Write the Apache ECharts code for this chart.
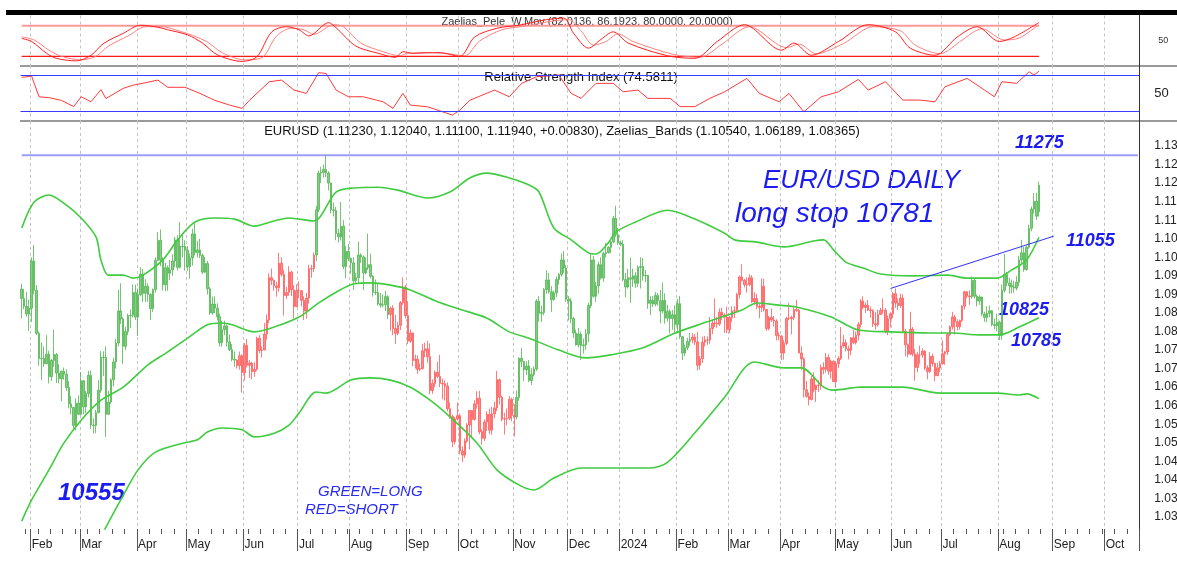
<!DOCTYPE html>
<html>
<head>
<meta charset="utf-8">
<script src="https://cdn.jsdelivr.net/npm/echarts@6/dist/echarts.min.js"></script>
<style>
  html, body { margin: 0; padding: 0; background: #fff; }
  #chart { width: 1177px; height: 567px; }
</style>
</head>
<body>
<div id="chart"></div>
<script>
// daily EUR/USD candles: date, open, high, low, close (pips over 1.0000)
const candles = [
  ['2023-01-26',914,929,836,889],['2023-01-27',889,915,860,868],['2023-01-30',868,906,840,847],['2023-01-31',847,886,802,863],
  ['2023-02-01',863,1000,826,990],['2023-02-02',990,1033,900,911],['2023-02-03',911,925,791,795],['2023-02-06',795,800,708,727],
  ['2023-02-07',727,770,669,728],['2023-02-08',728,760,705,713],['2023-02-09',713,790,712,739],['2023-02-10',739,748,660,678],
  ['2023-02-13',678,726,667,722],['2023-02-14',722,805,705,738],['2023-02-15',738,742,661,688],['2023-02-16',688,712,660,673],
  ['2023-02-17',673,694,612,693],['2023-02-20',693,703,670,685],['2023-02-21',685,698,640,649],['2023-02-22',649,666,593,605],
  ['2023-02-23',605,627,577,595],['2023-02-24',595,597,536,547],['2023-02-27',547,620,533,607],['2023-02-28',607,628,575,577],
  ['2023-03-01',577,691,575,667],['2023-03-02',667,669,577,597],['2023-03-03',597,640,580,633],['2023-03-06',633,694,622,682],
  ['2023-03-07',682,695,537,548],['2023-03-08',548,566,525,547],['2023-03-09',547,589,526,581],['2023-03-10',581,669,580,642],
  ['2023-03-13',642,747,635,731],['2023-03-14',731,747,680,730],['2023-03-15',730,760,516,577],['2023-03-16',577,640,576,610],
  ['2023-03-17',610,674,605,670],['2023-03-20',670,729,652,718],['2023-03-21',718,780,700,769],['2023-03-22',769,912,760,855],
  ['2023-03-23',855,930,820,834],['2023-03-24',834,839,713,760],['2023-03-27',760,813,750,800],['2023-03-28',800,848,790,843],
  ['2023-03-29',843,860,810,844],['2023-03-30',844,927,838,905],['2023-03-31',905,926,831,839],
  ['2023-04-03',839,916,788,900],['2023-04-04',900,973,895,955],['2023-04-05',955,969,880,903],['2023-04-06',903,941,880,922],
  ['2023-04-07',922,930,880,900],['2023-04-10',900,903,831,862],['2023-04-11',862,916,853,913],['2023-04-12',913,1000,905,992],
  ['2023-04-13',992,1068,990,1046],['2023-04-14',1046,1075,976,992],['2023-04-17',992,1000,910,926],['2023-04-18',926,985,909,972],
  ['2023-04-19',972,978,910,957],['2023-04-20',957,993,938,966],['2023-04-21',966,1008,950,990],['2023-04-24',990,1055,973,1047],
  ['2023-04-25',1047,1060,965,973],['2023-04-26',973,1095,970,1030],['2023-04-27',1030,1062,1000,1029],['2023-04-28',1029,1046,964,1019],
  ['2023-05-01',1019,1030,964,975],['2023-05-02',975,1010,942,998],['2023-05-03',998,1077,978,1063],['2023-05-04',1063,1092,1005,1013],
  ['2023-05-05',1013,1045,1000,1020],['2023-05-08',1020,1050,998,1005],['2023-05-09',1005,1010,955,960],['2023-05-10',960,1001,958,983],
  ['2023-05-11',983,990,900,915],['2023-05-12',915,920,845,850],['2023-05-15',850,894,845,874],['2023-05-16',874,895,850,863],
  ['2023-05-17',863,876,830,840],['2023-05-18',840,848,760,770],['2023-05-19',770,829,759,805],['2023-05-22',805,829,790,815],
  ['2023-05-23',815,818,760,772],['2023-05-24',772,792,747,751],['2023-05-25',751,766,720,725],['2023-05-26',725,746,705,723],
  ['2023-05-29',723,725,700,708],['2023-05-30',708,746,697,735],['2023-05-31',735,738,635,689],
  ['2023-06-01',689,769,668,762],['2023-06-02',762,780,703,709],['2023-06-05',709,723,675,715],['2023-06-06',715,718,671,692],
  ['2023-06-07',692,717,678,698],['2023-06-08',698,786,694,782],['2023-06-09',782,790,742,749],['2023-06-12',749,760,730,750],
  ['2023-06-13',750,823,750,793],['2023-06-14',793,846,778,831],['2023-06-15',831,957,822,945],['2023-06-16',945,970,925,938],
  ['2023-06-19',938,940,910,923],['2023-06-20',923,934,894,918],['2023-06-21',918,1012,907,984],['2023-06-22',984,1000,948,954],
  ['2023-06-23',954,966,843,897],['2023-06-26',897,920,887,905],['2023-06-27',905,976,896,960],['2023-06-28',960,964,895,912],
  ['2023-06-29',912,925,835,867],['2023-06-30',867,927,866,910],
  ['2023-07-03',910,935,890,910],['2023-07-04',910,912,868,884],['2023-07-05',884,895,831,855],['2023-07-06',855,904,835,890],
  ['2023-07-07',890,980,875,969],['2023-07-10',969,980,945,970],['2023-07-11',970,1013,960,1006],['2023-07-12',1006,1139,990,1128],
  ['2023-07-13',1128,1234,1122,1227],['2023-07-14',1227,1244,1200,1229],['2023-07-17',1229,1250,1215,1237],['2023-07-18',1237,1276,1216,1227],
  ['2023-07-19',1227,1232,1180,1200],['2023-07-20',1200,1201,1118,1128],['2023-07-21',1128,1148,1110,1126],['2023-07-24',1126,1136,1046,1064],
  ['2023-07-25',1064,1077,1039,1055],['2023-07-26',1055,1149,1045,1084],['2023-07-27',1084,1100,968,975],['2023-07-28',975,1030,944,1016],
  ['2023-07-31',1016,1036,990,997],
  ['2023-08-01',997,999,956,985],['2023-08-02',985,1000,912,937],['2023-08-03',937,958,930,945],['2023-08-04',945,1042,931,1006],
  ['2023-08-07',1006,1011,985,1001],['2023-08-08',1001,1005,912,958],['2023-08-09',958,1000,954,972],['2023-08-10',972,1064,966,980],
  ['2023-08-11',980,1010,943,949],['2023-08-14',949,952,894,906],['2023-08-15',906,940,898,905],['2023-08-16',905,930,870,875],
  ['2023-08-17',875,904,864,871],['2023-08-18',871,900,865,872],['2023-08-21',872,910,855,894],['2023-08-22',894,898,833,846],
  ['2023-08-23',846,867,802,863],['2023-08-24',863,871,790,808],['2023-08-25',808,845,766,795],['2023-08-28',795,826,790,817],
  ['2023-08-29',817,882,804,878],['2023-08-30',878,946,872,920],['2023-08-31',920,925,835,843],
  ['2023-09-01',843,882,766,774],['2023-09-04',774,806,770,796],['2023-09-05',796,797,706,722],['2023-09-06',722,738,700,725],
  ['2023-09-07',725,736,686,698],['2023-09-08',698,714,693,700],['2023-09-11',700,767,698,748],['2023-09-12',748,770,730,753],
  ['2023-09-13',753,775,716,732],['2023-09-14',732,768,631,641],['2023-09-15',641,671,632,660],['2023-09-18',660,695,650,690],
  ['2023-09-19',690,718,674,679],['2023-09-20',679,737,650,660],['2023-09-21',660,673,617,659],['2023-09-22',659,669,614,653],
  ['2023-09-25',653,663,585,592],['2023-09-26',592,609,565,571],['2023-09-27',571,576,488,503],['2023-09-28',503,570,496,564],
  ['2023-09-29',564,609,560,573],
  ['2023-10-02',573,579,469,478],['2023-10-03',478,490,448,467],['2023-10-04',467,512,459,505],['2023-10-05',505,553,500,548],
  ['2023-10-06',548,588,482,587],['2023-10-09',587,588,517,563],['2023-10-10',563,615,560,605],['2023-10-11',605,639,592,620],
  ['2023-10-12',620,640,523,530],['2023-10-13',530,537,495,512],['2023-10-16',512,563,505,556],['2023-10-17',556,585,532,577],
  ['2023-10-18',577,592,524,534],['2023-10-19',534,597,522,578],['2023-10-20',578,610,566,594],['2023-10-23',594,694,585,670],
  ['2023-10-24',670,673,603,623],['2023-10-25',623,626,558,564],['2023-10-26',564,581,522,565],['2023-10-27',565,592,547,566],
  ['2023-10-30',566,626,561,617],['2023-10-31',617,622,558,574],
  ['2023-11-01',574,604,517,570],['2023-11-02',570,641,563,622],['2023-11-03',622,730,613,728],['2023-11-06',728,756,704,719],
  ['2023-11-07',719,720,667,697],['2023-11-08',697,720,683,707],['2023-11-09',707,723,664,668],['2023-11-10',668,701,656,684],
  ['2023-11-13',684,706,679,699],['2023-11-14',699,887,694,882],['2023-11-15',882,895,827,849],['2023-11-16',849,870,826,851],
  ['2023-11-17',851,917,844,913],['2023-11-20',913,965,902,939],['2023-11-21',939,958,902,907],['2023-11-22',907,922,853,886],
  ['2023-11-23',886,910,883,904],['2023-11-24',904,948,893,940],['2023-11-27',940,958,926,954],['2023-11-28',954,1010,948,993],
  ['2023-11-29',993,1017,958,971],['2023-11-30',971,979,880,887],
  ['2023-12-01',887,896,830,882],['2023-12-04',882,890,822,835],['2023-12-05',835,839,782,796],['2023-12-06',796,805,762,764],
  ['2023-12-07',764,810,757,793],['2023-12-08',793,800,723,762],['2023-12-11',762,781,741,764],['2023-12-12',764,807,751,794],
  ['2023-12-13',794,878,772,870],['2023-12-14',870,1009,863,993],['2023-12-15',993,1004,891,895],['2023-12-18',895,933,880,923],
  ['2023-12-19',923,988,902,980],['2023-12-20',980,1000,940,944],['2023-12-21',944,1015,934,1010],['2023-12-22',1010,1039,1000,1013],
  ['2023-12-25',1013,1030,1010,1027],['2023-12-26',1027,1045,1011,1042],['2023-12-27',1042,1112,1038,1105],['2023-12-28',1105,1139,1055,1061],
  ['2023-12-29',1061,1079,1033,1039],
  ['2024-01-01',1039,1045,1030,1035],['2024-01-02',1035,1046,935,940],['2024-01-03',940,958,892,920],['2024-01-04',920,969,916,945],
  ['2024-01-05',945,999,877,941],['2024-01-08',941,969,920,950],['2024-01-09',950,960,917,930],['2024-01-10',930,978,920,973],
  ['2024-01-11',973,1000,916,975],['2024-01-12',975,998,937,950],['2024-01-15',950,966,933,951],['2024-01-16',951,953,861,876],
  ['2024-01-17',876,895,844,884],['2024-01-18',884,896,866,874],['2024-01-19',874,906,868,897],['2024-01-22',897,904,870,883],
  ['2024-01-23',883,912,822,855],['2024-01-24',855,932,849,884],['2024-01-25',884,903,821,836],['2024-01-26',836,872,827,854],
  ['2024-01-29',854,860,795,835],['2024-01-30',835,858,805,845],['2024-01-31',845,870,796,819],
  ['2024-02-01',819,888,795,875],['2024-02-02',875,896,780,786],['2024-02-05',786,788,723,742],['2024-02-06',742,765,734,756],
  ['2024-02-07',756,783,750,773],['2024-02-08',773,796,761,778],['2024-02-09',778,795,768,785],['2024-02-12',785,793,763,772],
  ['2024-02-13',772,799,695,709],['2024-02-14',709,734,697,727],['2024-02-15',727,786,715,771],['2024-02-16',771,788,760,777],
  ['2024-02-19',777,787,764,777],['2024-02-20',777,839,767,808],['2024-02-21',808,830,793,822],['2024-02-22',822,889,812,822],
  ['2024-02-23',822,839,810,820],['2024-02-26',820,862,815,852],['2024-02-27',852,864,831,844],['2024-02-28',844,849,796,839],
  ['2024-02-29',839,867,796,805],
  ['2024-03-01',805,842,795,838],['2024-03-04',838,868,826,855],['2024-03-05',855,868,837,856],['2024-03-06',856,904,853,900],
  ['2024-03-07',900,951,889,947],['2024-03-08',947,981,935,938],['2024-03-11',938,942,919,926],['2024-03-12',926,946,905,927],
  ['2024-03-13',927,954,922,945],['2024-03-14',945,952,877,880],['2024-03-15',880,906,872,889],['2024-03-18',889,901,860,868],
  ['2024-03-19',868,874,836,865],['2024-03-20',865,943,852,922],['2024-03-21',922,942,854,859],['2024-03-22',859,860,802,808],
  ['2024-03-25',808,842,803,838],['2024-03-26',838,862,826,831],['2024-03-27',831,842,814,828],['2024-03-28',828,833,776,789],
  ['2024-03-29',789,798,776,788],
  ['2024-04-01',788,790,723,742],['2024-04-02',742,777,724,768],['2024-04-03',768,840,763,835],['2024-04-04',835,877,830,835],
  ['2024-04-05',835,843,792,838],['2024-04-08',838,865,830,859],['2024-04-09',859,885,852,857],['2024-04-10',857,861,742,742],
  ['2024-04-11',742,760,697,726],['2024-04-12',726,730,622,643],['2024-04-15',643,667,622,625],['2024-04-16',625,636,601,617],
  ['2024-04-17',617,680,614,672],['2024-04-18',672,690,636,643],['2024-04-19',643,657,610,655],['2024-04-22',655,669,637,655],
  ['2024-04-23',655,711,643,703],['2024-04-24',703,717,685,698],['2024-04-25',698,742,689,730],['2024-04-26',730,739,683,693],
  ['2024-04-29',693,724,673,720],['2024-04-30',720,722,664,665],
  ['2024-05-01',665,719,650,713],['2024-05-02',713,734,701,727],['2024-05-03',727,812,723,761],['2024-05-06',761,791,756,770],
  ['2024-05-07',770,779,746,753],['2024-05-08',753,762,725,749],['2024-05-09',749,785,736,783],['2024-05-10',783,804,766,770],
  ['2024-05-13',770,800,765,790],['2024-05-14',790,826,776,819],['2024-05-15',819,887,811,882],['2024-05-16',882,895,860,865],
  ['2024-05-17',865,878,850,871],['2024-05-20',871,885,855,858],['2024-05-21',858,867,837,856],['2024-05-22',856,860,812,821],
  ['2024-05-23',821,852,805,818],['2024-05-24',818,859,813,846],['2024-05-27',846,864,845,857],['2024-05-28',857,889,848,857],
  ['2024-05-29',857,863,795,800],['2024-05-30',800,843,790,834],['2024-05-31',834,852,811,848],
  ['2024-06-03',848,906,836,902],['2024-06-04',902,916,864,877],['2024-06-05',877,889,858,870],['2024-06-06',870,902,864,890],
  ['2024-06-07',890,900,796,800],['2024-06-10',800,807,733,764],['2024-06-11',764,768,730,739],['2024-06-12',739,853,737,806],
  ['2024-06-13',806,812,733,740],['2024-06-14',740,753,667,703],['2024-06-17',703,745,690,737],['2024-06-18',737,762,713,737],
  ['2024-06-19',737,755,729,747],['2024-06-20',747,750,696,702],['2024-06-21',702,709,671,692],['2024-06-24',692,745,688,733],
  ['2024-06-25',733,740,706,714],['2024-06-26',714,716,666,681],['2024-06-27',681,716,680,702],['2024-06-28',702,721,691,713],
  ['2024-07-01',713,776,711,740],['2024-07-02',740,748,710,745],['2024-07-03',745,797,737,792],['2024-07-04',792,816,787,812],
  ['2024-07-05',812,853,805,839],['2024-07-08',839,845,792,826],['2024-07-09',826,833,803,813],['2024-07-10',813,832,805,830],
  ['2024-07-11',830,871,825,868],['2024-07-12',868,910,859,907],['2024-07-15',907,909,889,896],['2024-07-16',896,911,872,894],
  ['2024-07-17',894,948,888,938],['2024-07-18',938,943,890,895],['2024-07-19',895,900,868,882],['2024-07-22',882,898,872,893],
  ['2024-07-23',893,894,842,847],['2024-07-24',847,853,826,838],['2024-07-25',838,868,825,849],['2024-07-26',849,870,838,856],
  ['2024-07-29',856,858,814,819],['2024-07-30',819,835,806,816],['2024-07-31',816,848,801,825],
  ['2024-08-01',825,829,777,789],['2024-08-02',789,927,778,911],['2024-08-05',911,1009,905,954],['2024-08-06',954,961,922,931],
  ['2024-08-07',931,945,902,924],['2024-08-08',924,940,903,920],['2024-08-09',920,937,904,917],['2024-08-12',917,949,911,933],
  ['2024-08-13',933,1004,922,993],['2024-08-14',993,1047,981,1012],['2024-08-15',1012,1028,961,967],['2024-08-16',967,1032,964,1027],
  ['2024-08-19',1027,1088,1023,1078],['2024-08-20',1078,1137,1070,1130],['2024-08-21',1130,1173,1118,1151],['2024-08-22',1151,1174,1101,1111],
  ['2024-08-23',1123,1204,1110,1194]
];

// long / short regime from each date onward
const regimeStarts = [
  ['2023-01-26', 'long'], ['2023-05-29', 'short'], ['2023-07-12', 'long'], ['2023-08-23', 'short'],
  ['2023-11-02', 'long'], ['2024-02-09', 'short'], ['2024-07-17', 'long']
];

// Zaelias bands, [day index, price]
const upperBand = [[0,1.1079],[5,1.1149],[11,1.1168],[17,1.1146],[24,1.1106],[30,1.1055],[32,1.0993],[35,1.0952],[41,1.0952],[45,1.0944],[49,1.0952],[57,1.0993],[63,1.1047],[70,1.1095],[78,1.1106],[86,1.1103],[94,1.1084],[102,1.1098],[108,1.1106],[118,1.1098],[127,1.1176],[134,1.1187],[144,1.1189],[152,1.1181],[164,1.1160],[173,1.1176],[181,1.1214],[188,1.1227],[197,1.1214],[205,1.1195],[209,1.1176],[215,1.1079],[222,1.1047],[229,1.1012],[232,1.1009],[237,1.1039],[240,1.1068],[248,1.1095],[261,1.1127],[271,1.1106],[284,1.1065],[288,1.1047],[297,1.1041],[308,1.1028],[320,1.1044],[324,1.1047],[328,1.1020],[333,1.0987],[340,1.0971],[347,1.0955],[360,1.0950],[374,1.0952],[382,1.0944],[394,1.0944],[400,1.0966],[406,1.0993],[411,1.1054]];
const middleBand = [[0,1.0289],[4,1.0346],[11,1.0427],[17,1.0499],[24,1.0561],[32,1.0615],[41,1.0650],[51,1.0710],[59,1.0745],[67,1.0782],[75,1.0818],[81,1.0823],[85,1.0818],[94,1.0799],[102,1.0812],[112,1.0839],[120,1.0877],[127,1.0906],[134,1.0928],[141,1.0931],[149,1.0925],[157,1.0912],[168,1.0880],[178,1.0858],[188,1.0836],[197,1.0799],[205,1.0782],[217,1.0750],[228,1.0729],[238,1.0737],[251,1.0756],[264,1.0796],[277,1.0826],[291,1.0858],[297,1.0877],[306,1.0871],[313,1.0866],[327,1.0839],[338,1.0804],[351,1.0799],[367,1.0796],[376,1.0796],[387,1.0791],[395,1.0791],[403,1.0812],[411,1.0837]];
const lowerBand = [[33,1.0260],[40,1.0346],[47,1.0427],[54,1.0475],[65,1.0499],[71,1.0508],[75,1.0529],[81,1.0540],[89,1.0535],[94,1.0516],[102,1.0526],[108,1.0548],[112,1.0580],[119,1.0637],[123,1.0634],[133,1.0669],[141,1.0675],[149,1.0669],[157,1.0650],[165,1.0615],[173,1.0570],[184,1.0499],[192,1.0427],[201,1.0386],[207,1.0373],[215,1.0405],[226,1.0432],[238,1.0432],[254,1.0432],[261,1.0448],[273,1.0535],[284,1.0623],[296,1.0718],[308,1.0702],[315,1.0702],[324,1.0650],[328,1.0642],[339,1.0650],[356,1.0650],[371,1.0634],[394,1.0634],[403,1.0629],[406,1.0632],[411,1.0619]];

// Zaelias_Pele_W.Mov pair, [day index, value]
const peleFast = [[0,55],[4,49],[10,26],[14,16],[22,11],[28,22],[33,45],[41,65],[48,81],[55,77],[59,72],[67,62],[73,46],[79,23],[89,10],[95,19],[101,68],[107,78],[112,72],[116,60],[124,86],[127,76],[135,40],[144,26],[151,18],[154,29],[158,26],[163,27],[169,27],[177,20],[183,58],[192,75],[201,81],[211,91],[219,95],[223,65],[229,36],[234,53],[239,68],[245,46],[261,21],[272,16],[281,49],[292,82],[307,32],[312,46],[319,22],[330,49],[342,82],[353,68],[359,36],[369,22],[378,58],[386,78],[395,49],[401,58],[411,86.19]];
const peleSlow = [[0,58],[5,52],[11,32],[16,20],[24,13],[30,20],[35,40],[43,60],[50,78],[57,78],[62,72],[69,61],[75,48],[81,27],[90,13],[97,17],[103,60],[109,75],[114,72],[118,63],[126,82],[130,78],[137,46],[146,29],[153,21],[156,26],[160,26],[165,27],[171,26],[179,21],[185,50],[194,72],[203,79],[213,88],[221,92],[226,70],[231,42],[236,49],[241,64],[247,49],[263,24],[274,18],[283,44],[294,78],[309,37],[314,44],[321,25],[332,45],[344,78],[355,70],[361,42],[371,25],[380,52],[388,74],[397,52],[403,56],[411,82.01]];
const peleLevels = [80, 20];

// RSI, [day index, value]
const rsi = [[0,67.8],[4,69],[7,46],[11,45],[16,42],[21,35],[24,46],[28,40.5],[32,54],[34,44],[41,55.4],[45,59],[50,61.7],[55,64.7],[59,56.6],[66,56.6],[72,49.8],[78,42],[84,36.7],[89,33],[92,42],[100,62.8],[105,64.7],[110,53.5],[115,49.8],[120,73],[123,72],[127,53.5],[132,46],[138,46],[146,40.4],[150,33],[154,49.8],[157,36.7],[164,34.8],[174,25.5],[177,31],[181,42],[191,53.5],[197,46],[202,61],[208,68.4],[217,70.3],[222,49.8],[226,44.2],[232,61],[239,61],[243,51.6],[249,53.5],[253,44.2],[262,44.2],[266,35],[272,35],[278,44.2],[284,51.6],[293,66.6],[298,49.8],[306,40.4],[310,49.8],[316,29.2],[323,46],[330,51.6],[338,65.5],[342,53.5],[349,62.8],[356,42.3],[363,42.3],[369,40.4],[373,57.2],[382,66.6],[389,53.5],[393,46],[396,62.8],[402,61],[407,74],[409,70.3],[411,74.58]];
const rsiLevels = [70, 30];

// reference lines
const resistance = 1.1275;
const trendLine = [['2024-05-31', 1.0916], ['2024-09-02', 1.1057]];

const priceLabels = [1.03,1.035,1.04,1.045,1.05,1.055,1.06,1.065,1.07,1.075,1.08,1.085,1.09,1.095,1.10,1.105,1.11,1.115,1.12,1.125,1.13];
const monthNames = ['Jan','Feb','Mar','Apr','May','Jun','Jul','Aug','Sep','Oct','Nov','Dec'];
const axisStart = '2023-01-26';
const axisEnd = '2024-10-18';

// ---- build weekday calendar ----
const days = [];
for (let t = Date.parse(axisStart + 'T00:00:00Z'); t <= Date.parse(axisEnd + 'T00:00:00Z'); t += 86400000) {
  const d = new Date(t);
  const wd = d.getUTCDay();
  if (wd !== 0 && wd !== 6) days.push(d.toISOString().slice(0, 10));
}
const isMonthStart = i => i > 0 && days[i].slice(5, 7) !== days[i - 1].slice(5, 7);
const isMonday = i => new Date(days[i] + 'T00:00:00Z').getUTCDay() === 1;

const PIP = 10000;
const px = p => 1 + p / PIP;
const regimeOf = d => {
  let r = 'long';
  regimeStarts.forEach(s => { if (d >= s[0]) r = s[1]; });
  return r;
};
const styles = {
  long: { color: '#86cc86', borderColor: '#4fb54f', color0: '#0a870a', borderColor0: '#0a870a' },
  short: { color: '#ff8c8c', borderColor: '#ff5a5a', color0: '#ff0000', borderColor0: '#ff0000' }
};
const candleData = candles.map(c => ({
  value: [px(c[1]), px(c[4]), px(c[3]), px(c[2])],
  itemStyle: styles[regimeOf(c[0])]
}));

const lastIdx = candles.length - 1;
const font = 'Liberation Sans';
const gridLeft = 20.5, gridRight = 37.8;
const minorTicks = [];
for (let v = 27; v <= 136; v++) minorTicks.push(1 + v / 1000);

function hiddenX(grid) {
  return {
    type: 'category', gridIndex: grid, data: days, boundaryGap: true,
    axisLine: { show: false }, axisTick: { show: false }, axisLabel: { show: false },
    splitLine: { show: true, interval: isMonthStart, lineStyle: { color: '#c4c4c4', type: [3, 3], width: 1 } }
  };
}
const gridBase = { left: gridLeft, right: gridRight, containLabel: false, outerBoundsMode: 'none' };

const chart = echarts.init(document.getElementById('chart'));
chart.setOption({
  animation: false,
  backgroundColor: '#fff',
  grid: [
    Object.assign({ top: 15.5, height: 51 }, gridBase),
    Object.assign({ top: 65.5, height: 55.4 }, gridBase),
    Object.assign({ top: 121, height: 408 }, gridBase)
  ],
  xAxis: [
    hiddenX(0),
    hiddenX(1),
    {
      type: 'category', gridIndex: 2, position: 'bottom', data: days, boundaryGap: true,
      axisLine: { show: false },
      axisTick: { show: true, interval: isMonthStart, length: 22, lineStyle: { color: '#555' } },
      axisLabel: {
        interval: isMonthStart, align: 'left', margin: 10, fontFamily: font, fontSize: 12, color: '#222',
        formatter: v => v.slice(5, 7) === '01' ? v.slice(0, 4) : monthNames[+v.slice(5, 7) - 1]
      },
      splitLine: { show: true, interval: isMonthStart, lineStyle: { color: '#c4c4c4', type: [3, 3], width: 1 } }
    },
    {
      type: 'category', gridIndex: 2, position: 'bottom', data: days, boundaryGap: true,
      axisLine: { show: false }, axisLabel: { show: false }, splitLine: { show: false },
      axisTick: { show: true, interval: isMonday, length: 5, lineStyle: { color: '#555' } }
    }
  ],
  yAxis: [
    {
      type: 'value', gridIndex: 0, position: 'right', min: 0, max: 100,
      axisLine: { show: true, lineStyle: { color: '#333' } },
      axisTick: { customValues: [10, 20, 30, 40, 50, 60, 70, 80, 90], length: 4, lineStyle: { color: '#333' } },
      axisLabel: { customValues: [50], margin: 19, fontFamily: font, fontSize: 9, color: '#333' },
      splitLine: { show: false }
    },
    {
      type: 'value', gridIndex: 1, position: 'right', min: 19, max: 81,
      axisLine: { show: true, lineStyle: { color: '#333' } },
      axisTick: { customValues: [20, 30, 40, 50, 60, 70, 80], length: 5, lineStyle: { color: '#333' } },
      axisLabel: { customValues: [50], margin: 15, fontFamily: font, fontSize: 13, color: '#222' },
      splitLine: { show: false }
    },
    {
      type: 'value', gridIndex: 2, position: 'right', min: 1.02677, max: 1.13674,
      axisLine: { show: true, lineStyle: { color: '#333' } },
      axisTick: { customValues: priceLabels, length: 6, lineStyle: { color: '#333' } },
      axisLabel: { customValues: priceLabels, formatter: v => v.toFixed(3), margin: 15, fontFamily: font, fontSize: 12, color: '#222' },
      splitLine: { show: false }
    },
    {
      type: 'value', gridIndex: 2, position: 'right', offset: 0, min: 1.02677, max: 1.13674,
      axisLine: { show: false }, axisLabel: { show: false }, splitLine: { show: false },
      axisTick: { customValues: minorTicks, length: 3, lineStyle: { color: '#555' } }
    }
  ],
  series: [
    { type: 'line', xAxisIndex: 0, yAxisIndex: 0, data: [[0, peleLevels[0]], [lastIdx, peleLevels[0]]], symbol: 'none', lineStyle: { color: '#ff9a9a', width: 2 }, z: 1 },
    { type: 'line', xAxisIndex: 0, yAxisIndex: 0, data: [[0, peleLevels[1]], [lastIdx, peleLevels[1]]], symbol: 'none', lineStyle: { color: '#ff1a1a', width: 1.2 }, z: 1 },
    { type: 'line', xAxisIndex: 0, yAxisIndex: 0, data: peleSlow, symbol: 'none', smooth: 0.3, lineStyle: { color: '#ff8080', width: 1 } },
    { type: 'line', xAxisIndex: 0, yAxisIndex: 0, data: peleFast, symbol: 'none', smooth: 0.3, lineStyle: { color: '#ff2020', width: 1 } },
    {
      type: 'line', xAxisIndex: 1, yAxisIndex: 1, data: rsi, symbol: 'none', lineStyle: { color: '#ff3a3a', width: 1 },
      markLine: {
        silent: true, symbol: 'none', label: { show: false },
        lineStyle: { color: '#3b3bff', width: 1, type: 'solid' },
        data: rsiLevels.map(v => ({ yAxis: v }))
      }
    },
    {
      type: 'line', xAxisIndex: 2, yAxisIndex: 2, symbol: 'none', z: 1,
      data: [[0, resistance], [days.length - 1, resistance]],
      lineStyle: { color: '#9c9cff', width: 2 }
    },
    {
      type: 'candlestick', xAxisIndex: 2, yAxisIndex: 2, data: candleData, barWidth: 2,
      itemStyle: { borderWidth: 0.8 },
      markLine: {
        silent: true, symbol: 'none', label: { show: false },
        data: [
          [
            { coord: trendLine[0], lineStyle: { color: '#3030ff', width: 1, type: 'solid' } },
            { coord: trendLine[1] }
          ]
        ]
      }
    },
    { type: 'line', xAxisIndex: 2, yAxisIndex: 2, data: upperBand, symbol: 'none', smooth: 0.3, lineStyle: { color: '#3fcc3f', width: 1.6 } },
    { type: 'line', xAxisIndex: 2, yAxisIndex: 2, data: middleBand, symbol: 'none', smooth: 0.3, lineStyle: { color: '#3fcc3f', width: 1.6 } },
    { type: 'line', xAxisIndex: 2, yAxisIndex: 2, data: lowerBand, symbol: 'none', smooth: 0.3, lineStyle: { color: '#3fcc3f', width: 1.6 } }
  ],
  graphic: [
    { type: 'rect', shape: { x: 6, y: 10, width: 1171, height: 5 }, style: { fill: '#000' } },
    { type: 'line', shape: { x1: 20, y1: 66, x2: 1177, y2: 66 }, style: { stroke: '#9a9a9a', lineWidth: 2 } },
    { type: 'line', shape: { x1: 20, y1: 121, x2: 1177, y2: 121 }, style: { stroke: '#9a9a9a', lineWidth: 2 } },
    { type: 'line', shape: { x1: 1139.5, y1: 529, x2: 1139.5, y2: 538 }, style: { stroke: '#333', lineWidth: 1 } },
    { type: 'text', x: 587, y: 22, style: { text: 'Zaelias_Pele_W.Mov (82.0136, 86.1923, 80.0000, 20.0000)', font: '11px ' + font, fill: '#333', textAlign: 'center', textVerticalAlign: 'middle' } },
    { type: 'text', x: 581, y: 77, style: { text: 'Relative Strength Index (74.5811)', font: '13px ' + font, fill: '#111', textAlign: 'center', textVerticalAlign: 'middle' } },
    { type: 'text', x: 562, y: 131, style: { text: 'EURUSD (1.11230, 1.12040, 1.11100, 1.11940, +0.00830), Zaelias_Bands (1.10540, 1.06189, 1.08365)', font: '13px ' + font, fill: '#111', textAlign: 'center', textVerticalAlign: 'middle' } },
    { type: 'text', x: 1015, y: 143, style: { text: '11275', font: 'italic bold 18px ' + font, fill: '#1c1cf0', textVerticalAlign: 'middle' } },
    { type: 'text', x: 1066, y: 241, style: { text: '11055', font: 'italic bold 18px ' + font, fill: '#1c1cf0', textVerticalAlign: 'middle' } },
    { type: 'text', x: 999, y: 310, style: { text: '10825', font: 'italic bold 18px ' + font, fill: '#1c1cf0', textVerticalAlign: 'middle' } },
    { type: 'text', x: 1011, y: 341, style: { text: '10785', font: 'italic bold 18px ' + font, fill: '#1c1cf0', textVerticalAlign: 'middle' } },
    { type: 'text', x: 58, y: 493, style: { text: '10555', font: 'italic bold 24px ' + font, fill: '#1c1cf0', textVerticalAlign: 'middle' } },
    { type: 'text', x: 763, y: 181, style: { text: 'EUR/USD DAILY', font: 'italic 26px ' + font, fill: '#1c1cf0', textVerticalAlign: 'middle' } },
    { type: 'text', x: 735, y: 214, style: { text: 'long stop 10781', font: 'italic 28px ' + font, fill: '#1c1cf0', textVerticalAlign: 'middle' } },
    { type: 'text', x: 318, y: 492, style: { text: 'GREEN=LONG', font: 'italic 15px ' + font, fill: '#2a2af0', textVerticalAlign: 'middle' } },
    { type: 'text', x: 305, y: 510, style: { text: 'RED=SHORT', font: 'italic 15px ' + font, fill: '#2a2af0', textVerticalAlign: 'middle' } }
  ]
});
</script>
</body>
</html>
